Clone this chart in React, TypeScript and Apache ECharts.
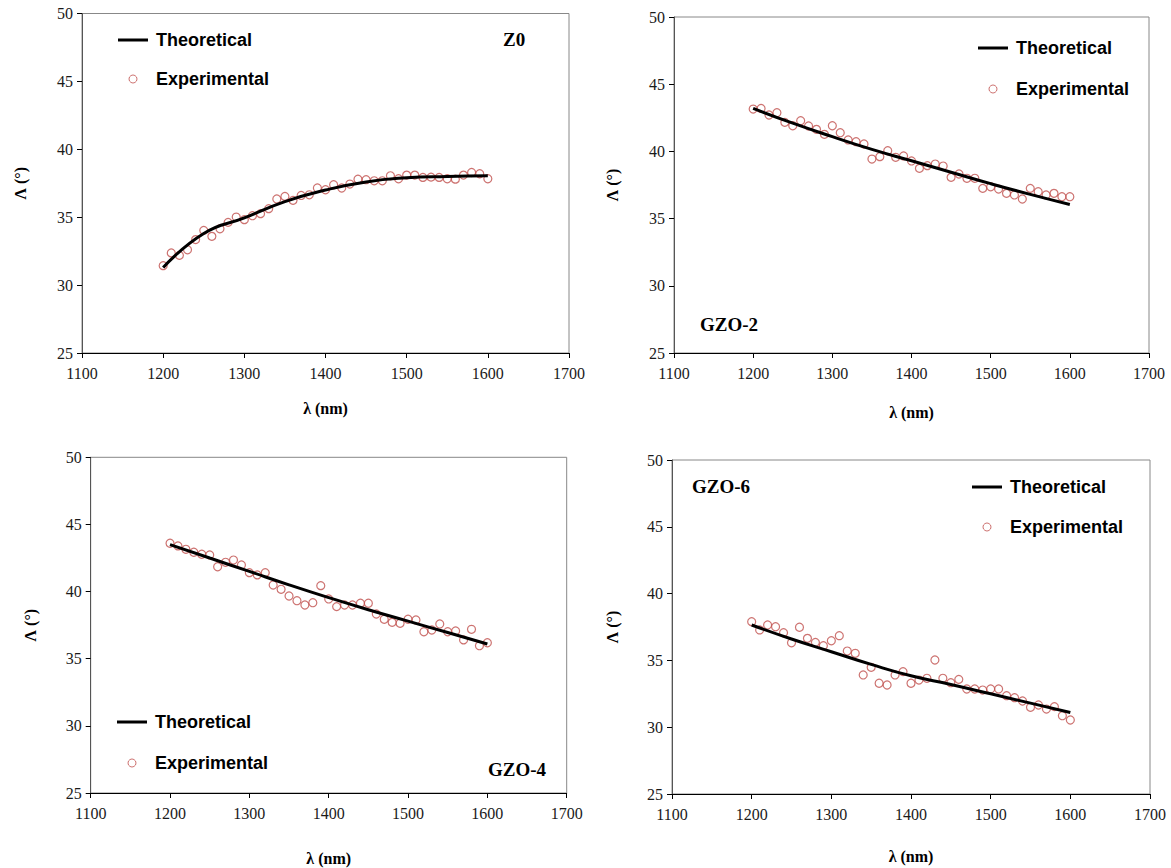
import React, { useEffect, useRef } from "react";
import * as echarts from "echarts";

const expWavelengths = [1200, 1210, 1220, 1230, 1240, 1250, 1260, 1270, 1280, 1290, 1300, 1310, 1320, 1330, 1340, 1350, 1360, 1370, 1380, 1390, 1400, 1410, 1420, 1430, 1440, 1450, 1460, 1470, 1480, 1490, 1500, 1510, 1520, 1530, 1540, 1550, 1560, 1570, 1580, 1590, 1600];
const theoWavelengths = [1200, 1250, 1300, 1350, 1400, 1450, 1500, 1550, 1600];

const z0Exp = [31.43, 32.37, 32.19, 32.6, 33.35, 34.03, 33.59, 34.15, 34.62, 35.01, 34.82, 35.11, 35.26, 35.63, 36.34, 36.53, 36.24, 36.6, 36.65, 37.15, 37.02, 37.39, 37.15, 37.44, 37.8, 37.76, 37.68, 37.68, 38.05, 37.83, 38.1, 38.1, 37.93, 37.95, 37.93, 37.83, 37.8, 38.1, 38.29, 38.2, 37.83];
const z0Theo = [31.3, 33.8, 34.95, 36.15, 37.0, 37.6, 37.9, 38.0, 38.05];

const gzo2Exp = [43.15, 43.2, 42.71, 42.88, 42.16, 41.91, 42.28, 41.89, 41.64, 41.27, 41.91, 41.39, 40.85, 40.72, 40.55, 39.43, 39.61, 40.05, 39.56, 39.66, 39.29, 38.74, 38.94, 39.06, 38.91, 38.07, 38.32, 38.0, 38.0, 37.25, 37.37, 37.2, 36.88, 36.76, 36.46, 37.25, 37.0, 36.76, 36.88, 36.63, 36.63];
const gzo2Theo = [43.2, 42.1, 41.1, 40.15, 39.3, 38.45, 37.6, 36.8, 36.05];

const gzo4Exp = [43.6, 43.4, 43.15, 42.93, 42.78, 42.73, 41.85, 42.18, 42.35, 41.98, 41.41, 41.24, 41.41, 40.49, 40.17, 39.67, 39.32, 39.0, 39.17, 40.44, 39.45, 38.88, 39.0, 39.0, 39.13, 39.13, 38.33, 37.94, 37.71, 37.64, 37.94, 37.89, 37.01, 37.14, 37.59, 37.01, 37.07, 36.4, 37.19, 35.97, 36.19];
const gzo4Theo = [43.5, 42.5, 41.5, 40.5, 39.55, 38.65, 37.8, 36.95, 36.1];

const gzo6Exp = [37.9, 37.28, 37.65, 37.52, 37.07, 36.32, 37.48, 36.65, 36.35, 36.1, 36.47, 36.85, 35.7, 35.53, 33.91, 34.48, 33.29, 33.16, 33.91, 34.16, 33.29, 33.53, 33.66, 35.03, 33.66, 33.33, 33.58, 32.86, 32.86, 32.78, 32.86, 32.86, 32.36, 32.21, 31.96, 31.49, 31.66, 31.36, 31.54, 30.86, 30.54];
const gzo6Theo = [37.65, 36.6, 35.65, 34.7, 33.85, 33.2, 32.5, 31.8, 31.1];

const panelLabels = ["Z0", "GZO-2", "GZO-4", "GZO-6"];
const xTitle = "λ (nm)";
const yTitle = "Λ (°)";
const theoName = "Theoretical";
const expName = "Experimental";

const xMin = 1100, xMax = 1700, xStep = 100;
const yMin = 25, yMax = 50, yStep = 5;

const EXP_COLOR = "#c0504d";

export default function App() {
  const ref = useRef<HTMLDivElement>(null);
  useEffect(() => {
    if (!ref.current) return;
    const chart = echarts.init(ref.current, null, { renderer: "svg" });

    const grids = [
      { left: 82, top: 13.5, width: 487, height: 339.5 },
      { left: 674, top: 17, width: 475, height: 336 },
      { left: 90.7, top: 457.3, width: 476, height: 335.7 },
      { left: 672, top: 460, width: 478, height: 334 },
    ];
    const yGaps = [54, 54, 52, 52];
    const xGaps = [47, 51, 57, 54];
    const legendPos = [
      { left: 118, top: 31, gap: 21 },
      { left: 978, top: 39, gap: 23 },
      { left: 117, top: 713, gap: 23 },
      { left: 972, top: 478, gap: 22 },
    ];
    const labelPos = [
      { left: 503, top: 30 },
      { left: 700, top: 315 },
      { left: 488, top: 760 },
      { left: 692, top: 477 },
    ];
    const expSets = [z0Exp, gzo2Exp, gzo4Exp, gzo6Exp];
    const theoSets = [z0Theo, gzo2Theo, gzo4Theo, gzo6Theo];

    const serifLabel = { fontFamily: "Liberation Serif", fontSize: 16, color: "#1a1a1a" };
    const serifBold = { fontFamily: "Liberation Serif", fontSize: 16, fontWeight: "bold", color: "#000" };

    const option: any = {
      animation: false,
      backgroundColor: "#fff",
      title: panelLabels.map((t, i) => ({
        text: t,
        left: labelPos[i].left,
        top: labelPos[i].top,
        padding: 0,
        textStyle: { fontFamily: "Liberation Serif", fontSize: 19, fontWeight: "bold", color: "#000" },
      })),
      grid: grids.map((g) => ({
        ...g,
        show: true,
        borderColor: "#888",
        borderWidth: 1,
        backgroundColor: "transparent",
        containLabel: false,
      })),
      legend: legendPos.map((l) => ({
        orient: "vertical",
        left: l.left,
        top: l.top,
        itemGap: l.gap,
        itemWidth: 30,
        itemHeight: 8,
        padding: 0,
        selectedMode: false,
        data: [
          { name: theoName, icon: "path://M0,0L30,0L30,3L0,3Z", itemStyle: { color: "#000" } },
          { name: expName, icon: "circle", itemStyle: { color: "rgba(255,255,255,0)", borderColor: EXP_COLOR, borderWidth: 1 } },
        ],
        textStyle: { fontFamily: "Liberation Sans", fontSize: 18, fontWeight: "bold", color: "#000", padding: [0, 0, 0, 3] },
      })),
      xAxis: grids.map((_, i) => ({
        type: "value",
        gridIndex: i,
        min: xMin,
        max: xMax,
        interval: xStep,
        name: xTitle,
        nameLocation: "middle",
        nameGap: xGaps[i],
        nameTextStyle: serifBold,
        axisLine: { show: true, lineStyle: { color: "#000", width: 1 } },
        axisTick: { show: true, inside: false, length: 5, lineStyle: { color: "#000" } },
        axisLabel: { ...serifLabel, margin: 12, formatter: (v: number) => String(v) },
        splitLine: { show: false },
      })),
      yAxis: grids.map((_, i) => ({
        type: "value",
        gridIndex: i,
        min: yMin,
        max: yMax,
        interval: yStep,
        name: yTitle,
        nameLocation: "middle",
        nameGap: yGaps[i],
        nameRotate: 90,
        nameTextStyle: serifBold,
        axisLine: { show: true, lineStyle: { color: "#555", width: 1 } },
        axisTick: { show: true, inside: false, length: 5, lineStyle: { color: "#000" } },
        axisLabel: { ...serifLabel, margin: 9, formatter: (v: number) => String(v) },
        splitLine: { show: false },
      })),
      series: [] as any[],
    };

    for (let i = 0; i < 4; i++) {
      option.series.push({
        name: expName,
        type: "scatter",
        xAxisIndex: i,
        yAxisIndex: i,
        symbol: "circle",
        symbolSize: 8,
        itemStyle: { color: "rgba(255,255,255,0)", borderColor: EXP_COLOR, borderWidth: 1.2 },
        data: expWavelengths.map((x, k) => [x, expSets[i][k]]),
        z: 2,
      });
      option.series.push({
        name: theoName,
        type: "line",
        xAxisIndex: i,
        yAxisIndex: i,
        symbol: "none",
        smooth: true,
        lineStyle: { color: "#000", width: 3 },
        itemStyle: { color: "#000" },
        data: theoWavelengths.map((x, k) => [x, theoSets[i][k]]),
        z: 3,
      });
    }

    chart.setOption(option);
    return () => chart.dispose();
  }, []);

  return (
    <div
      ref={ref}
      style={{ position: "absolute", left: 0, top: 0, width: 1171, height: 868, background: "#fff" }}
    />
  );
}
